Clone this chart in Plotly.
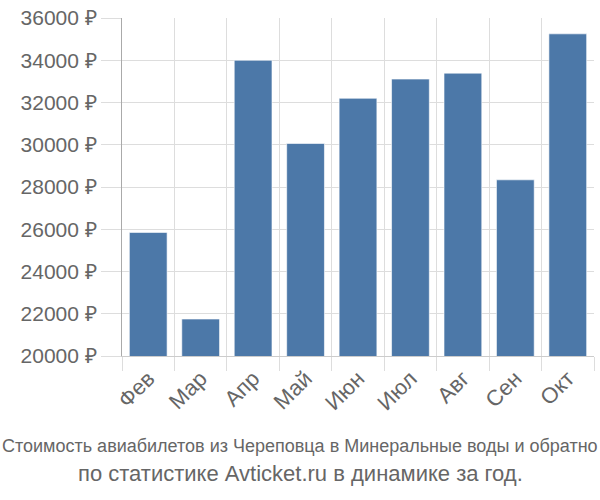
import plotly.graph_objects as go

months = ["Фев", "Мар", "Апр", "Май", "Июн", "Июл", "Авг", "Сен", "Окт"]
prices = [25850, 21750, 34000, 30060, 32200, 33110, 33390, 28340, 35250]
y_ticks = [20000, 22000, 24000, 26000, 28000, 30000, 32000, 34000, 36000]
y_labels = [f"{v} ₽" for v in y_ticks]
title_line1 = "Стоимость авиабилетов из Череповца в Минеральные воды и обратно"
title_line2 = "по статистике Avticket.ru в динамике за год."

W, H = 600, 500
ML, MR, MT, MB = 122, 6, 14, 144
pw, ph = W - ML - MR, H - MT - MB
cx = (W / 2 - ML) / pw

def py(ypix):
    return (H - MB - ypix) / ph

fig = go.Figure(go.Bar(
    x=months, y=prices,
    marker=dict(color="#4c78a8", line=dict(color="rgba(255,255,255,0.6)", width=1)),
    width=0.72,
))

fig.update_layout(
    width=W, height=H,
    margin=dict(l=ML, r=MR, t=MT, b=MB),
    plot_bgcolor="white", paper_bgcolor="white",
    showlegend=False,
    font=dict(family="Liberation Sans, Arial, sans-serif", color="#666666"),
)
fig.update_xaxes(
    type="category", tickson="boundaries",
    showgrid=True, gridcolor="#dddddd", gridwidth=1,
    ticks="outside", ticklen=14, tickcolor="#dddddd",
    showline=True, linecolor="#cccccc", linewidth=1,
    tickangle=-45, tickfont=dict(size=22, color="#666666"),
    range=[-0.5, 8.5],
)
fig.update_yaxes(
    range=[20000, 36000], tickvals=y_ticks, ticktext=y_labels,
    showgrid=True, gridcolor="#dddddd", gridwidth=1,
    ticks="outside", ticklen=20, tickcolor="#dddddd",
    showline=True, linecolor="#aaaaaa", linewidth=1,
    tickfont=dict(size=21, color="#666666"),
    zeroline=False,
)
fig.add_annotation(
    text=title_line1, xref="paper", yref="paper", x=cx, y=py(447),
    xanchor="center", yanchor="middle", showarrow=False,
    font=dict(family="Liberation Sans, Arial, sans-serif", size=18, color="#666666"),
)
fig.add_annotation(
    text=title_line2, xref="paper", yref="paper", x=cx, y=py(475),
    xanchor="center", yanchor="middle", showarrow=False,
    font=dict(family="Liberation Sans, Arial, sans-serif", size=22, color="#666666"),
)
fig.write_html("out.html")
